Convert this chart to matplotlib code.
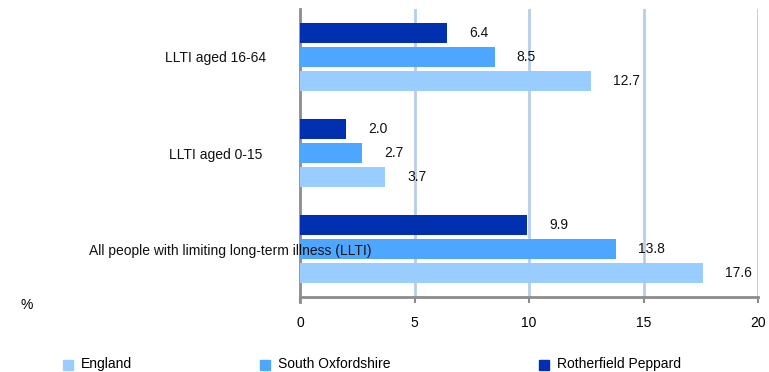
import numpy as np
import matplotlib.pyplot as plt
from matplotlib.patches import Rectangle

plt.rcParams['font.family'] = ['Liberation Sans', 'DejaVu Sans']

# data (bottom category first)
categories = ['All people with limiting long-term illness (LLTI)',
              'LLTI aged 0-15',
              'LLTI aged 16-64']
england = [17.6, 3.7, 12.7]
south_oxon = [13.8, 2.7, 8.5]
rotherfield = [9.9, 2.0, 6.4]
series_names = ['England', 'South Oxfordshire', 'Rotherfield Peppard']
x_ticks = [0, 5, 10, 15, 20]

col_eng = '#99ccff'
col_so = '#4da6ff'
col_rp = '#0030b0'
grey = '#8c8c8c'

W, H = 769, 372
fig = plt.figure(figsize=(W / 100, H / 100), dpi=100)
ax = fig.add_axes([300 / W, 1 - 297 / H, 458 / W, 288 / H])

y = np.arange(len(categories))
bh = 20 / 96
off = 24 / 96
series = [(england, col_eng, -off), (south_oxon, col_so, 0), (rotherfield, col_rp, off)]
for vals, col, dy in series:
    bars = ax.barh(y + dy, vals, height=bh, color=col, zorder=3)
    for b, v in zip(bars, vals):
        ax.annotate(f'{v:.1f}', (v, b.get_y() + b.get_height() / 2),
                    xytext=(16, 0), textcoords='offset points',
                    ha='left', va='center', fontsize=10, color='#111111')

ax.set_xlim(0, 20)
ax.set_ylim(-0.5, 2.5)
ax.set_xticks(x_ticks)
ax.set_xticklabels([str(t) for t in x_ticks], fontsize=10)
ax.tick_params(axis='x', length=4, width=1.5, color=grey, pad=10)
ax.set_yticks([])
for t in x_ticks[1:]:
    ax.axvline(t, color='#b9cde5', lw=2, zorder=1)
for s in ['top', 'right']:
    ax.spines[s].set_visible(False)
for s in ['left', 'bottom']:
    ax.spines[s].set_color(grey)
    ax.spines[s].set_linewidth(2)
ax.spines['left'].set_bounds(-0.55, 2.5)

# category labels
label_x = [230, 216, 216]
for yi, lab, lx in zip(y, categories, label_x):
    fig.text(lx / W, 1 - (251 - 96.5 * yi) / H, lab, ha='center', va='center',
             fontsize=10, color='#111111', zorder=5)

fig.text(27 / W, 1 - 305 / H, '%', ha='center', va='center', fontsize=10)

# legend
leg_x = [63, 260, 539]
for name, col, lx in zip(series_names, [col_eng, col_so, col_rp], leg_x):
    fig.patches.append(Rectangle((lx / W, 1 - 370 / H), 10 / W, 10 / H,
                                 transform=fig.transFigure, color=col))
    fig.text((lx + 18) / W, 1 - 364 / H, name, ha='left', va='center', fontsize=10)

fig.savefig('out.png', dpi=100)
